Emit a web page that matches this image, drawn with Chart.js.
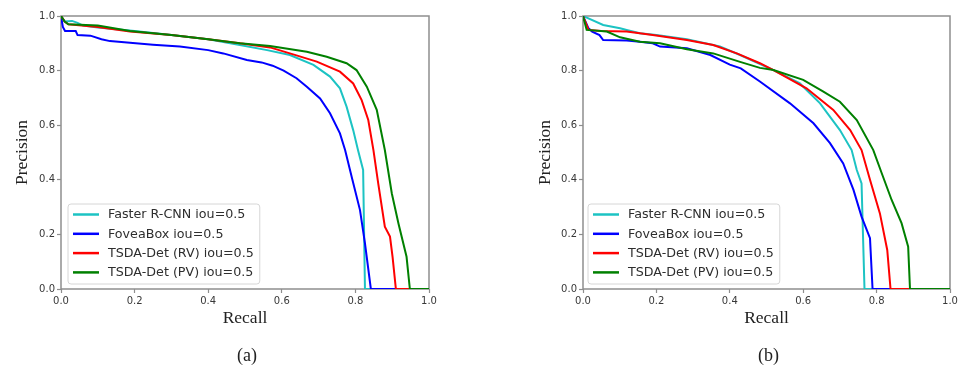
<!DOCTYPE html>
<html>
<head>
<meta charset="utf-8">
<script src="https://cdn.jsdelivr.net/npm/chart.js@4"></script>
<style>
    body { margin: 0; background: #ffffff; }
    #wrap { position: relative; width: 958px; height: 368px; }
    .panel { position: absolute; top: 0; width: 479px; height: 368px; }
</style>
</head>
<body>
<div id="wrap">
    <div class="panel" style="left:0"><canvas id="chartA" width="479" height="368"></canvas></div>
    <div class="panel" style="left:479px"><canvas id="chartB" width="479" height="368"></canvas></div>
</div>
<script>
const SERIES_LABELS = [
    "Faster R-CNN iou=0.5",
    "FoveaBox iou=0.5",
    "TSDA-Det (RV) iou=0.5",
    "TSDA-Det (PV) iou=0.5"
];

const SERIES_COLORS = [
    "#1cc3c3",
    "#0000ff",
    "#ff0000",
    "#008000"
];

const TICKS = [0, 0.2, 0.4, 0.6, 0.8, 1.0];

// (a)
const rcnnRecallA = [0, 0.01, 0.03, 0.045, 0.06, 0.1, 0.2, 0.3, 0.4, 0.486, 0.56, 0.622, 0.686, 0.731, 0.758, 0.776, 0.794, 0.807, 0.821, 0.826, 1.0];
const rcnnPrecA   = [1.0, 0.98, 0.982, 0.975, 0.965, 0.958, 0.945, 0.93, 0.915, 0.894, 0.875, 0.857, 0.821, 0.778, 0.735, 0.668, 0.582, 0.509, 0.436, 0, 0];

const foveaRecallA = [0, 0.005, 0.011, 0.04, 0.045, 0.08, 0.11, 0.133, 0.1875, 0.25, 0.323, 0.4, 0.441, 0.505, 0.545, 0.575, 0.605, 0.64, 0.668, 0.704, 0.731, 0.758, 0.772, 0.79, 0.8125, 0.826, 0.842, 1.0];
const foveaPrecA   = [1.0, 0.96, 0.945, 0.945, 0.93, 0.928, 0.915, 0.908, 0.902, 0.895, 0.888, 0.875, 0.863, 0.839, 0.83, 0.818, 0.8, 0.772, 0.741, 0.698, 0.644, 0.57, 0.509, 0.41, 0.289, 0.167, 0, 0];

const rvRecallA = [0, 0.01, 0.02, 0.1, 0.1875, 0.3, 0.4, 0.486, 0.568, 0.622, 0.695, 0.758, 0.794, 0.817, 0.835, 0.849, 0.862, 0.88, 0.894, 0.901, 0.91, 1.0];
const rvPrecA   = [1.0, 0.98, 0.97, 0.96, 0.943, 0.93, 0.915, 0.9, 0.885, 0.863, 0.833, 0.796, 0.753, 0.692, 0.619, 0.509, 0.387, 0.228, 0.192, 0.118, 0, 0];

const pvRecallA = [0, 0.01, 0.02, 0.1, 0.1875, 0.3, 0.4, 0.486, 0.568, 0.668, 0.722, 0.776, 0.803, 0.831, 0.858, 0.88, 0.899, 0.917, 0.939, 0.948, 1.0];
const pvPrecA   = [1.0, 0.98, 0.97, 0.965, 0.945, 0.93, 0.915, 0.9, 0.89, 0.869, 0.851, 0.827, 0.802, 0.741, 0.656, 0.509, 0.35, 0.24, 0.118, 0, 0];

// (b)
const rcnnRecallB = [0, 0.055, 0.101, 0.119, 0.155, 0.2, 0.283, 0.373, 0.428, 0.519, 0.591, 0.646, 0.7, 0.732, 0.746, 0.759, 0.767, 1.0];
const rcnnPrecB   = [1.0, 0.967, 0.955, 0.949, 0.937, 0.93, 0.915, 0.888, 0.857, 0.802, 0.753, 0.68, 0.582, 0.509, 0.436, 0.387, 0, 0];

const foveaRecallB = [0, 0.015, 0.025, 0.045, 0.055, 0.119, 0.155, 0.19, 0.21, 0.283, 0.347, 0.4, 0.43, 0.482, 0.564, 0.628, 0.673, 0.709, 0.737, 0.759, 0.782, 0.789, 1.0];
const foveaPrecB   = [1.0, 0.955, 0.943, 0.93, 0.912, 0.91, 0.906, 0.9, 0.888, 0.882, 0.857, 0.822, 0.808, 0.76, 0.68, 0.607, 0.534, 0.46, 0.363, 0.265, 0.186, 0, 0];

const rvRecallB = [0, 0.015, 0.05, 0.119, 0.19, 0.283, 0.355, 0.419, 0.482, 0.519, 0.609, 0.682, 0.728, 0.759, 0.782, 0.809, 0.829, 0.838, 1.0];
const rvPrecB   = [1.0, 0.949, 0.945, 0.943, 0.93, 0.912, 0.894, 0.863, 0.827, 0.802, 0.735, 0.656, 0.582, 0.509, 0.4, 0.277, 0.143, 0, 0];

const pvRecallB = [0, 0.01, 0.065, 0.101, 0.155, 0.21, 0.283, 0.355, 0.428, 0.482, 0.519, 0.6, 0.655, 0.7, 0.746, 0.791, 0.814, 0.841, 0.868, 0.886, 0.891, 1.0];
const pvPrecB   = [1.0, 0.949, 0.943, 0.922, 0.906, 0.9, 0.878, 0.863, 0.832, 0.81, 0.802, 0.766, 0.723, 0.686, 0.619, 0.509, 0.424, 0.326, 0.241, 0.155, 0, 0];

const FRAME_COLOR = "#8e8e8e";
const TICK_FONT = { family: "'DejaVu Sans'", size: 10 };
const SERIF = "'Liberation Serif', 'Times New Roman', serif";

function puntos(recall, prec) {
    return recall.map((r, i) => ({ x: r, y: prec[i] }));
}

const framePlugin = {
    id: "frame",
    beforeDatasetsDraw(chart) {
        const a = chart.chartArea;
        const ctx = chart.ctx;
        ctx.save();
        ctx.strokeStyle = FRAME_COLOR;
        ctx.lineWidth = 1.5;
        ctx.strokeRect(a.left, a.top, a.right - a.left, a.bottom - a.top);
        ctx.restore();
    }
};

const legendPlugin = {
    id: "legendBox",
    afterDatasetsDraw(chart, args, opts) {
        const a = chart.chartArea;
        const ctx = chart.ctx;
        ctx.save();
        ctx.font = "12.7px 'DejaVu Sans'";
        const labels = chart.data.datasets.map(d => d.label);
        const textW = Math.max(...labels.map(t => ctx.measureText(t).width));
        const w = 40 + textW + 6;
        const h = 80;
        const x = a.left + opts.dx;
        const y = a.bottom - 5 - h;

        ctx.beginPath();
        ctx.roundRect(x, y, w, h, 3);
        ctx.fillStyle = "rgba(255,255,255,0.8)";
        ctx.fill();
        ctx.strokeStyle = "#d6d6d6";
        ctx.lineWidth = 1;
        ctx.stroke();

        chart.data.datasets.forEach((ds, i) => {
            const cy = y + 10.5 + i * 19.3;
            ctx.beginPath();
            ctx.moveTo(x + 5, cy);
            ctx.lineTo(x + 31, cy);
            ctx.strokeStyle = ds.borderColor;
            ctx.lineWidth = 2.5;
            ctx.stroke();
            ctx.fillStyle = "#2e2e2e";
            ctx.textBaseline = "middle";
            ctx.textAlign = "left";
            ctx.fillText(ds.label, x + 40, cy + 0.5);
        });
        ctx.restore();
    }
};

const captionPlugin = {
    id: "caption",
    afterDraw(chart, args, opts) {
        const a = chart.chartArea;
        const ctx = chart.ctx;
        ctx.save();
        ctx.font = "18px " + SERIF;
        ctx.fillStyle = "#222222";
        ctx.textAlign = "center";
        ctx.textBaseline = "middle";
        ctx.fillText(opts.text, (a.left + a.right) / 2 + 2, 356);
        ctx.restore();
    }
};

function crearPR(canvasId, series, pad, yWidth, yTitlePad, legendDx, caption) {

    const ctx = document.getElementById(canvasId);

    const datasets = series.map((s, i) => ({
        label: SERIES_LABELS[i],
        data: puntos(s[0], s[1]),
        borderColor: SERIES_COLORS[i],
        backgroundColor: SERIES_COLORS[i],
        borderWidth: 2,
        pointRadius: 0,
        showLine: true,
        tension: 0,
        order: series.length - i
    }));

    const axisCommon = {
        type: "linear",
        min: 0,
        max: 1,
        afterBuildTicks(scale) {
            scale.ticks = TICKS.map(v => ({ value: v }));
        },
        grid: {
            drawOnChartArea: false,
            drawTicks: true,
            tickLength: 4,
            tickColor: FRAME_COLOR,
            tickWidth: 1.2
        },
        border: { display: false }
    };

    return new Chart(ctx, {

        type: "scatter",

        data: { datasets },

        plugins: [framePlugin, legendPlugin, captionPlugin],

        options: {
            responsive: false,
            animation: false,
            layout: { padding: pad },
            plugins: {
                legend: { display: false },
                tooltip: { enabled: false },
                legendBox: { dx: legendDx },
                caption: { text: caption }
            },
            scales: {
                x: {
                    ...axisCommon,
                    afterFit(scale) {
                        scale.height = 79;
                        scale.paddingLeft = 0;
                        scale.paddingRight = 0;
                    },
                    ticks: {
                        font: TICK_FONT,
                        color: "#383838",
                        padding: 2,
                        maxRotation: 0,
                        callback: v => Number(v).toFixed(1)
                    },
                    title: {
                        display: true,
                        text: "Recall",
                        font: { family: SERIF, size: 17.5 },
                        color: "#222222",
                        padding: { top: 0, bottom: 39.5 }
                    }
                },
                y: {
                    ...axisCommon,
                    afterFit(scale) {
                        scale.width = yWidth;
                    },
                    ticks: {
                        font: TICK_FONT,
                        color: "#383838",
                        padding: 2,
                        callback: v => Number(v).toFixed(1)
                    },
                    title: {
                        display: true,
                        text: "Precision",
                        font: { family: SERIF, size: 17.5 },
                        color: "#222222",
                        padding: { top: yTitlePad, bottom: 0 }
                    }
                }
            }
        }
    });
}

crearPR(
    "chartA",
    [
        [rcnnRecallA, rcnnPrecA],
        [foveaRecallA, foveaPrecA],
        [rvRecallA, rvPrecA],
        [pvRecallA, pvPrecA]
    ],
    { left: 4, right: 50, top: 16, bottom: 0 },
    57,
    7.5,
    7,
    "(a)"
);

crearPR(
    "chartB",
    [
        [rcnnRecallB, rcnnPrecB],
        [foveaRecallB, foveaPrecB],
        [rvRecallB, rvPrecB],
        [pvRecallB, pvPrecB]
    ],
    { left: 48, right: 8, top: 16, bottom: 0 },
    56,
    7.5,
    5,
    "(b)"
);
</script>
</body>
</html>
